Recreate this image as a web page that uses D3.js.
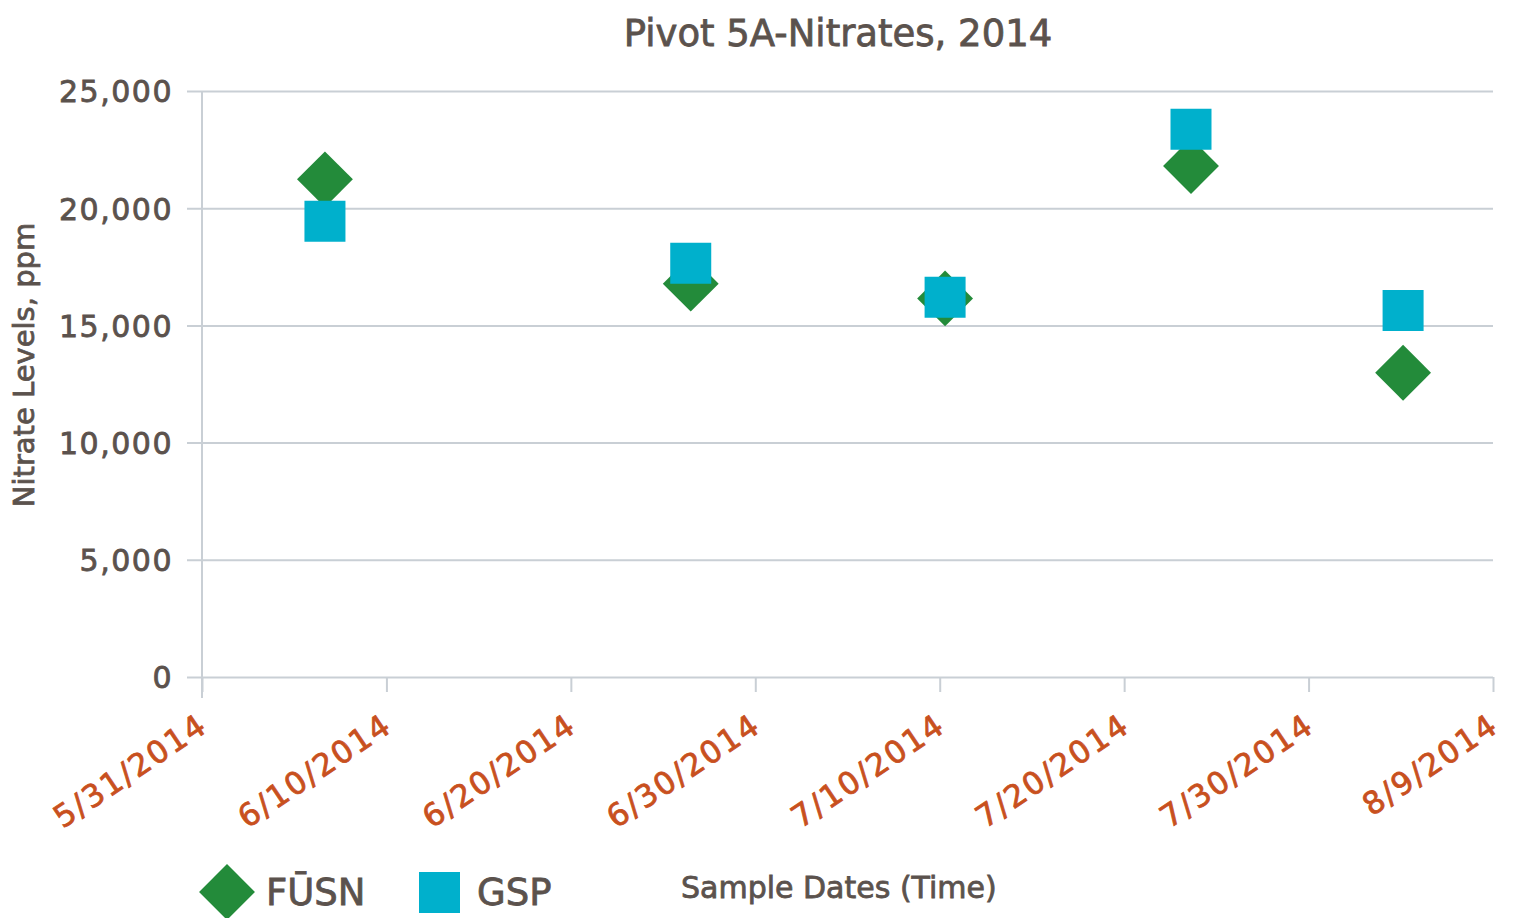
<!DOCTYPE html>
<html>
<head>
<meta charset="utf-8">
<script src="https://cdn.jsdelivr.net/npm/d3@7"></script>
<style>
    body { margin: 0; background: #fff; }
    svg text { font-family: "DejaVu Sans", sans-serif; stroke-width: 0.8px; }
</style>
</head>
<body>
<div id="chart"></div>
<script>
// sample dates (with time) and values
const sampleDates = ["2014-06-06T16:00", "2014-06-26T12:00", "2014-07-10T07:00", "2014-07-23T15:00", "2014-08-04T03:00"];
const fusnValues = [21230, 16780, 16150, 21800, 12980];
const gspValues = [19440, 17650, 16200, 23370, 15640];

const xTickDates = ["2014-05-31", "2014-06-10", "2014-06-20", "2014-06-30", "2014-07-10", "2014-07-20", "2014-07-30", "2014-08-09"];
const yTicks = [0, 5000, 10000, 15000, 20000, 25000];
const seriesNames = ["FŪSN", "GSP"];

const parseTime = d3.timeParse("%Y-%m-%dT%H:%M");
const parseDay = d3.timeParse("%Y-%m-%d");

let margin = {top: 91, right: 22, bottom: 241, left: 202},
    width = 1515 - margin.left - margin.right,
    height = 918 - margin.top - margin.bottom;

let svg = d3.select("#chart")
    .append("svg")
    .attr("width", 1515)
    .attr("height", 918);

let g = svg.append("g")
    .attr("transform", "translate(" + margin.left + "," + margin.top + ")");

let x = d3.scaleTime()
    .domain([parseDay(xTickDates[0]), parseDay(xTickDates[xTickDates.length - 1])])
    .range([0, width]);

let y = d3.scaleLinear()
    .domain([0, 25000])
    .range([height, 0]);

const gridColor = "#c9cfd5";
const textColor = "#5b524d";

// Y axis + gridlines
let yAxis = g.append("g")
    .call(d3.axisLeft(y).tickValues(yTicks).tickFormat(d3.format(",")));
yAxis.select(".domain").remove();
yAxis.selectAll(".tick line")
    .attr("x1", -15)
    .attr("x2", width)
    .attr("stroke", gridColor)
    .attr("stroke-width", 2);
yAxis.selectAll(".tick text")
    .attr("x", -29)
    .attr("dy", "0.36em")
    .attr("fill", textColor)
    .attr("stroke", textColor)
    .style("font-size", "30px")
    .style("letter-spacing", "1.5px");

// vertical axis line
g.append("line")
    .attr("x1", 0).attr("x2", 0)
    .attr("y1", 0).attr("y2", height + 21)
    .attr("stroke", gridColor)
    .attr("stroke-width", 2);

// X axis
let xAxis = g.append("g")
    .attr("transform", "translate(0," + height + ")")
    .call(d3.axisBottom(x)
        .tickValues(xTickDates.map(parseDay))
        .tickFormat(d3.timeFormat("%-m/%-d/%Y"))
        .tickSize(15));
xAxis.select(".domain").remove();
xAxis.selectAll(".tick line")
    .attr("stroke", gridColor)
    .attr("stroke-width", 2);
xAxis.selectAll(".tick text")
    .attr("y", 0)
    .attr("dy", 0)
    .attr("text-anchor", "end")
    .attr("transform", "translate(7,53) rotate(-34)")
    .attr("fill", "#c8501e")
    .attr("stroke", "#c8501e")
    .style("font-size", "31px")
    .style("letter-spacing", "2px");

// FUSN diamonds, then GSP squares on top
const diamond = d3.symbol().type(d3.symbolSquare).size(1560);
const square = d3.symbol().type(d3.symbolSquare).size(1681);

g.append("g")
    .selectAll("path")
    .data(sampleDates)
    .enter()
    .append("path")
    .attr("d", diamond)
    .attr("transform", (d, i) => "translate(" + x(parseTime(d)) + "," + y(fusnValues[i]) + ") rotate(45)")
    .attr("fill", "#238b3a");

g.append("g")
    .selectAll("path")
    .data(sampleDates)
    .enter()
    .append("path")
    .attr("d", square)
    .attr("transform", (d, i) => "translate(" + x(parseTime(d)) + "," + y(gspValues[i]) + ")")
    .attr("fill", "#00b0cc");

// title
svg.append("text")
    .attr("x", 838)
    .attr("y", 46)
    .attr("text-anchor", "middle")
    .attr("fill", textColor)
    .attr("stroke", textColor)
    .style("font-size", "37px")
    .text("Pivot 5A-Nitrates, 2014");

// y axis title
svg.append("text")
    .attr("transform", "translate(34,365) rotate(-90)")
    .attr("text-anchor", "middle")
    .attr("fill", textColor)
    .attr("stroke", textColor)
    .style("font-size", "29px")
    .text("Nitrate Levels, ppm");

// legend
let legend = svg.append("g");
legend.append("path")
    .attr("d", diamond)
    .attr("transform", "translate(227,892) rotate(45)")
    .attr("fill", "#238b3a");
legend.append("text")
    .attr("x", 266)
    .attr("y", 905)
    .attr("fill", textColor)
    .attr("stroke", textColor)
    .style("font-size", "37px")
    .text(seriesNames[0]);
legend.append("path")
    .attr("d", square)
    .attr("transform", "translate(439.5,892.5)")
    .attr("fill", "#00b0cc");
legend.append("text")
    .attr("x", 477)
    .attr("y", 905)
    .attr("fill", textColor)
    .attr("stroke", textColor)
    .style("font-size", "37px")
    .text(seriesNames[1]);

// x axis title
svg.append("text")
    .attr("x", 681)
    .attr("y", 898)
    .attr("fill", textColor)
    .attr("stroke", textColor)
    .style("font-size", "30px")
    .text("Sample Dates (Time)");
</script>
</body>
</html>
